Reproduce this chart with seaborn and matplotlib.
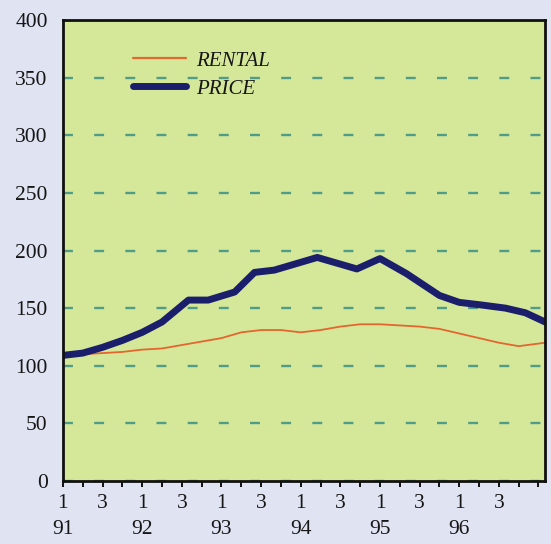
import numpy as np
import pandas as pd
import seaborn as sns
import matplotlib.pyplot as plt
from matplotlib.lines import Line2D

# Months elapsed since January 1991
price_month = [0, 3, 6, 9, 12, 15, 19, 22, 26, 29, 32, 38.5, 44.5, 48, 52, 57, 60, 63, 67, 70, 73]
price_value = [109, 111, 116, 122, 129, 138, 157, 157, 164, 181, 183, 194, 184, 193, 180, 161, 155, 153, 150, 146, 138]

rental_month = [0, 3, 6, 9, 12, 15, 18, 21, 24, 27, 30, 33, 36, 39, 42, 45, 48, 51, 54, 57, 60, 63, 66, 69, 73]
rental_value = [108, 110, 111, 112, 114, 115, 118, 121, 124, 129, 131, 131, 129, 131, 134, 136, 136, 135, 134, 132, 128, 124, 120, 117, 120]

quarter_labels = ["1", "3"]
year_labels = ["91", "92", "93", "94", "95", "96"]
y_ticks = [0, 50, 100, 150, 200, 250, 300, 350, 400]

series_names = ["RENTAL", "PRICE"]
series_colors = {"RENTAL": "#e4662e", "PRICE": "#1b1f6b"}

df = pd.concat([
    pd.DataFrame({"month": rental_month, "value": rental_value, "series": "RENTAL"}),
    pd.DataFrame({"month": price_month, "value": price_value, "series": "PRICE"}),
], ignore_index=True)

sns.set_theme(style="white")
plt.rcParams["font.family"] = ["Liberation Serif", "DejaVu Serif"]

fig = plt.figure(figsize=(5.51, 5.44), dpi=100, facecolor="#dfe3f2")
ax = fig.add_axes([0.1143, 0.1158, 0.875, 0.8474])
ax.set_facecolor("#d5e89a")

# horizontal dashed reference lines
ax.set_axisbelow(True)
ax.yaxis.grid(True, color="#4f9c88", linewidth=1.7, linestyle=(0, (4.2, 9.0)))
ax.xaxis.grid(False)

sns.lineplot(data=df[df.series == "RENTAL"], x="month", y="value", color=series_colors["RENTAL"],
             linewidth=1.3, ax=ax, legend=False, zorder=3)
sns.lineplot(data=df[df.series == "PRICE"], x="month", y="value", color=series_colors["PRICE"],
             linewidth=5, ax=ax, legend=False, zorder=4, solid_joinstyle="round")

ax.set_xlim(0, 73)
ax.set_ylim(0, 400)
ax.set_xlabel("")
ax.set_ylabel("")

ax.set_yticks(y_ticks)
ax.set_yticklabels([str(v) for v in y_ticks], fontsize=15.5, color="#161616")
ax.tick_params(axis="y", left=False, length=0, pad=11)

# quarterly ticks; quarters 1 and 3 labelled, year under quarter 1
xt = np.arange(0, 73, 3)
labels = []
for i, m in enumerate(xt):
    year_idx = i // 4
    if i % 2 == 0 and year_idx < len(year_labels):
        q = quarter_labels[(i // 2) % 2]
        labels.append(q + "\n" + year_labels[year_idx] if q == "1" else q)
    else:
        labels.append("")
ax.set_xticks(xt)
ax.set_xticklabels(labels, fontsize=15.5, color="#161616", linespacing=1.55)
ax.tick_params(axis="x", bottom=True, direction="out", length=4.5, width=1.4,
               color="#111111", pad=4.5)

for s in ax.spines.values():
    s.set_visible(True)
    s.set_color("#111111")
    s.set_linewidth(2)
    s.set_zorder(5)

handles = [Line2D([], [], color=series_colors["RENTAL"], linewidth=1.6),
           Line2D([], [], color=series_colors["PRICE"], linewidth=5)]
ax.legend(handles, series_names, loc="upper left", bbox_to_anchor=(0.124, 0.955),
          frameon=False, borderpad=0, handlelength=2.55, handletextpad=0.45, labelspacing=0.4,
          prop={"family": "Liberation Serif", "style": "italic", "size": 15})
for t in ax.get_legend().get_texts():
    t.set_color("#161616")

fig.savefig("out.png", dpi=100, facecolor=fig.get_facecolor())
